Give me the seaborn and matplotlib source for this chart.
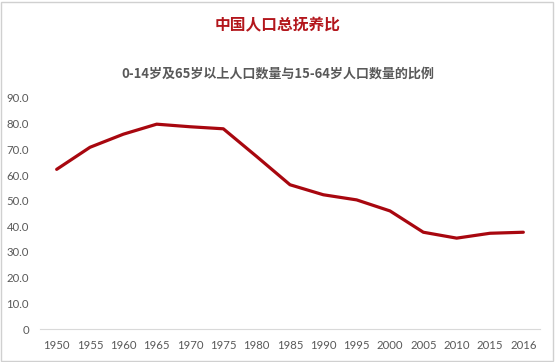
import matplotlib
matplotlib.use("Agg")
import matplotlib.pyplot as plt
import seaborn as sns
import pandas as pd
from matplotlib.patches import Rectangle

years = ["1950", "1955", "1960", "1965", "1970", "1975", "1980", "1985",
         "1990", "1995", "2000", "2005", "2010", "2015", "2016"]
ratio = [62.2, 70.8, 75.9, 79.8, 78.8, 78.0, 67.2, 56.2,
         52.3, 50.3, 46.0, 37.7, 35.4, 37.3, 37.7]
yticks = [0, 10, 20, 30, 40, 50, 60, 70, 80, 90]
ytick_labels = ["0", "10.0", "20.0", "30.0", "40.0", "50.0", "60.0", "70.0", "80.0", "90.0"]
title = "中国人口总抚养比"
subtitle = "0-14岁及65岁以上人口数量与15-64岁人口数量的比例"

sns.set_theme(style="white")
plt.rcParams['font.family'] = ['Noto Sans CJK SC', 'DejaVu Sans']

df = pd.DataFrame({"year": years, "ratio": ratio})

fig = plt.figure(figsize=(5.56, 3.62), dpi=100)
ax = fig.add_axes([40/556, 1-329/362, 500/556, 231/362])
sns.lineplot(data=df, x="year", y="ratio", ax=ax, color="#a8070f",
             linewidth=2.3, sort=False)

ax.set_xlim(-0.5, len(years) - 0.5)
ax.set_ylim(0, 90)
ax.set_yticks(yticks)
ax.set_yticklabels(ytick_labels)
ax.set_xlabel("")
ax.set_ylabel("")
ax.tick_params(axis="both", length=0, labelsize=8.2, colors="#595959")
ax.tick_params(axis="y", pad=8)
ax.tick_params(axis="x", pad=8)
for lbl in ax.get_xticklabels() + ax.get_yticklabels():
    lbl.set_fontfamily(["Lato", "DejaVu Sans"])
for s in ["top", "right", "left"]:
    ax.spines[s].set_visible(False)
ax.spines["bottom"].set_color("#d9d9d9")
ax.spines["bottom"].set_linewidth(0.8)
ax.grid(False)

fig.text(0.5, 1-25/362, title, ha="center", va="center", fontsize=11.3,
         fontweight="bold", color="#b3161c")
fig.text(0.5, 1-74/362, subtitle, ha="center", va="center", fontsize=9.4,
         fontweight="bold", color="#595959")

fig.patches.append(Rectangle((0.002, 0.004), 0.993, 0.99, transform=fig.transFigure,
                             fill=False, edgecolor="#d0d0d0", linewidth=1.0))

fig.savefig("out.png", dpi=100)
